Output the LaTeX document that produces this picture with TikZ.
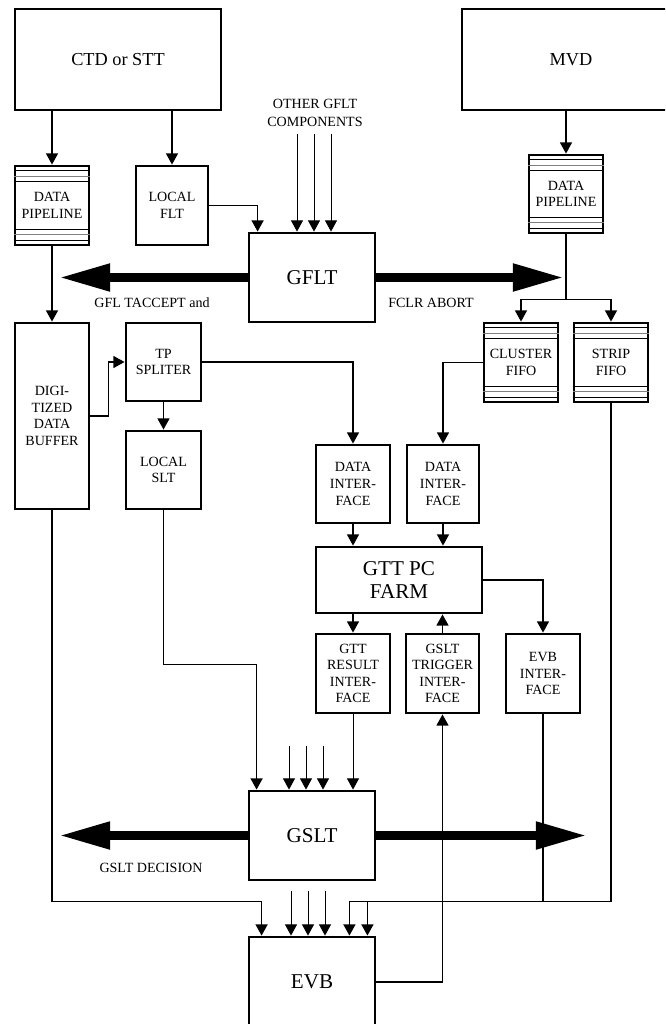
\documentclass[tikz,border=0pt]{standalone}
\usepackage{fontspec}
\setmainfont{Liberation Serif}
\usetikzlibrary{calc, arrows.meta}

\begin{document}
\begin{tikzpicture}[x=0.025cm, y=-0.025cm,
    box/.style={draw, line width=2pt, inner sep=0pt, align=center,
        font=\fontsize{10}{11.8}\selectfont},
    unit/.style={box, minimum width=1.85cm, minimum height=1.975cm},
    big/.style={box, font=\fontsize{15}{17}\selectfont},
    wire/.style={line width=1pt},
    conn/.style={wire, -{Triangle[length=2.8mm, width=3mm]}},
    fat/.style={line width=7pt, -{Triangle[length=1.3cm, width=0.63cm]}},
    lbl/.style={align=center, font=\fontsize{10}{12.5}\selectfont}]

    \useasboundingbox (0,0) rectangle (665,1024);
    \clip (0,0) rectangle (665,1024);

    % Detectors
    \node[box, font=\fontsize{13}{15}\selectfont, minimum width=5.15cm, minimum height=2.525cm] (ctd) at (118,59.5) {CTD or STT};
    \node[box, font=\fontsize{13}{15}\selectfont, minimum width=5.45cm, minimum height=2.525cm] (mvd) at (571,59.5) {MVD};

    % First level trigger
    \node[unit] (pipeL) at (52,205.5) {DATA\\PIPELINE};
    \node[unit, minimum width=1.8cm] (lflt) at (172,205.5) {LOCAL\\FLT};
    \node[big, minimum width=3.15cm, minimum height=2.225cm] (gflt) at (312,277.5) {GFLT};
    \node[unit, minimum height=1.95cm] (pipeR) at (566,194) {DATA\\PIPELINE};
    \node[lbl] (other) at (315,113) {OTHER GFLT\\COMPONENTS};

    % Buffers
    \node[unit, minimum height=4.65cm] (ddb) at (52,416) {DIGI-\\TIZED\\DATA\\BUFFER};
    \node[unit, minimum width=1.875cm, minimum height=1.95cm] (tps) at (163.5,362) {TP\\SPLITER};
    \node[unit, minimum width=1.875cm, minimum height=1.95cm] (lslt) at (163.5,470) {LOCAL\\SLT};
    \node[unit] (cfifo) at (521,362.5) {CLUSTER\\FIFO};
    \node[unit] (sfifo) at (611,362.5) {STRIP\\FIFO};

    % GTT
    \node[unit, minimum height=1.95cm] (di1) at (353,484) {DATA\\INTER-\\FACE};
    \node[unit, minimum width=1.8cm, minimum height=1.95cm] (di2) at (443,484) {DATA\\INTER-\\FACE};
    \node[big, minimum width=4.15cm, minimum height=1.65cm] (farm) at (399,580) {GTT PC\\FARM};
    \node[unit] (gttres) at (353,673.5) {GTT\\RESULT\\INTER-\\FACE};
    \node[unit, minimum width=1.825cm] (gsltt) at (442.5,673.5) {GSLT\\TRIGGER\\INTER-\\FACE};
    \node[unit] (evbif) at (543,673.5) {EVB\\INTER-\\FACE};

    % Second level trigger and event builder
    \node[big, minimum width=3.15cm, minimum height=2.225cm] (gslt) at (312,835.5) {GSLT};
    \node[big, minimum width=3.15cm, minimum height=2.25cm] (evb) at (312,982) {EVB};

    % Labels
    \node[lbl] (accept) at (152,303) {GFL TACCEPT and};
    \node[lbl] (abort) at (431,303) {FCLR ABORT};
    \node[lbl] (decision) at (151,868) {GSLT DECISION};

    % Pipeline stripes
    \foreach \n in {pipeL,pipeR,cfifo,sfifo}{
        \foreach \dy in {6,17}{
            \draw[line width=1pt] ($(\n.north west)+(0,\dy)$) -- ($(\n.north east)+(0,\dy)$);
            \draw[line width=1pt] ($(\n.south west)+(0,-\dy)$) -- ($(\n.south east)+(0,-\dy)$);
        }
        \draw[gray, line width=0.6pt] ($(\n.north west)+(0,11.5)$) -- ($(\n.north east)+(0,11.5)$);
        \draw[gray, line width=0.6pt] ($(\n.south west)+(0,-11.5)$) -- ($(\n.south east)+(0,-11.5)$);
    }

    % Coordinates
    \coordinate (split) at ($(pipeR.south)+(0,65)$);
    \coordinate (sltin) at ($(gslt.north west)+(9,-125)$);
    \coordinate (busL) at ($(evb.north west)+(14,-34)$);
    \coordinate (busR) at ($(evb.north east)+(-27,-34)$);
    \coordinate (busR2) at ($(evb.north east)+(-9,-34)$);
    \coordinate (tipA) at (58,277.5);
    \coordinate (tipB) at (565,277.5);
    \coordinate (tipC) at (58,835.5);
    \coordinate (tipD) at (588,835.5);

    % Draw the connectors
    \draw[conn] (ctd.south -| pipeL.north) -- (pipeL.north);
    \draw[conn] (ctd.south -| lflt.north) -- (lflt.north);
    \draw[conn] (lflt.east) -| ($(gflt.north west)+(10,0)$);
    \foreach \dx in {-15,2,19}
        \draw[conn, line width=0.7pt] ($(gflt.north)+(\dx,-98)$) -- ($(gflt.north)+(\dx,0)$);

    \draw[conn] (mvd.south -| pipeR.north) -- (pipeR.north);
    \draw[wire] (pipeR.south) -- (split);
    \draw[conn] (split) -| (cfifo.north);
    \draw[conn] (split) -| (sfifo.north);

    \draw[conn] (pipeL.south) -- (ddb.north);
    \draw[conn] (ddb.east) -- ++(18,0) |- (tps.west);
    \draw[conn] (tps.south) -- (lslt.north);
    \draw[conn] (tps.east) -| (di1.north);
    \draw[conn] (cfifo.west) -| (di2.north);
    \draw[conn] (di1.south) -- (di1.south |- farm.north);
    \draw[conn] (di2.south) -- (di2.south |- farm.north);
    \draw[conn] (farm.east) -| (evbif.north);
    \draw[conn] (farm.south -| gttres.north) -- (gttres.north);
    \draw[conn] (gsltt.north) -- (gsltt.north |- farm.south);
    \draw[conn, line width=0.7pt] (gttres.south) -- (gttres.south |- gslt.north);

    % into GSLT
    \draw[conn] (lslt.south) |- (sltin) -- (sltin |- gslt.north);
    \foreach \dx in {-23,-6,11}
        \draw[conn, line width=0.7pt] ($(gslt.north)+(\dx,-44)$) -- ($(gslt.north)+(\dx,0)$);

    % into EVB
    \draw[conn] (ddb.south) |- (busL) -- (busL |- evb.north);
    \foreach \dx in {-21,-4,13}
        \draw[conn, line width=0.7pt] ($(evb.north)+(\dx,-45)$) -- ($(evb.north)+(\dx,0)$);
    \draw[conn] (sfifo.south) |- (busR) -- (busR |- evb.north);
    \draw[conn] (busR2) -- (busR2 |- evb.north);
    \draw[wire] (evbif.south) -- (evbif.south |- busR);
    \draw[conn] (evb.east) -| (gsltt.south);

    % Decision arrows
    \draw[fat] (gflt.west) -- (tipA);
    \draw[fat] (gflt.east) -- (tipB);
    \draw[fat] (gslt.west) -- (tipC);
    \draw[fat] (gslt.east) -- (tipD);
\end{tikzpicture}
\end{document}
